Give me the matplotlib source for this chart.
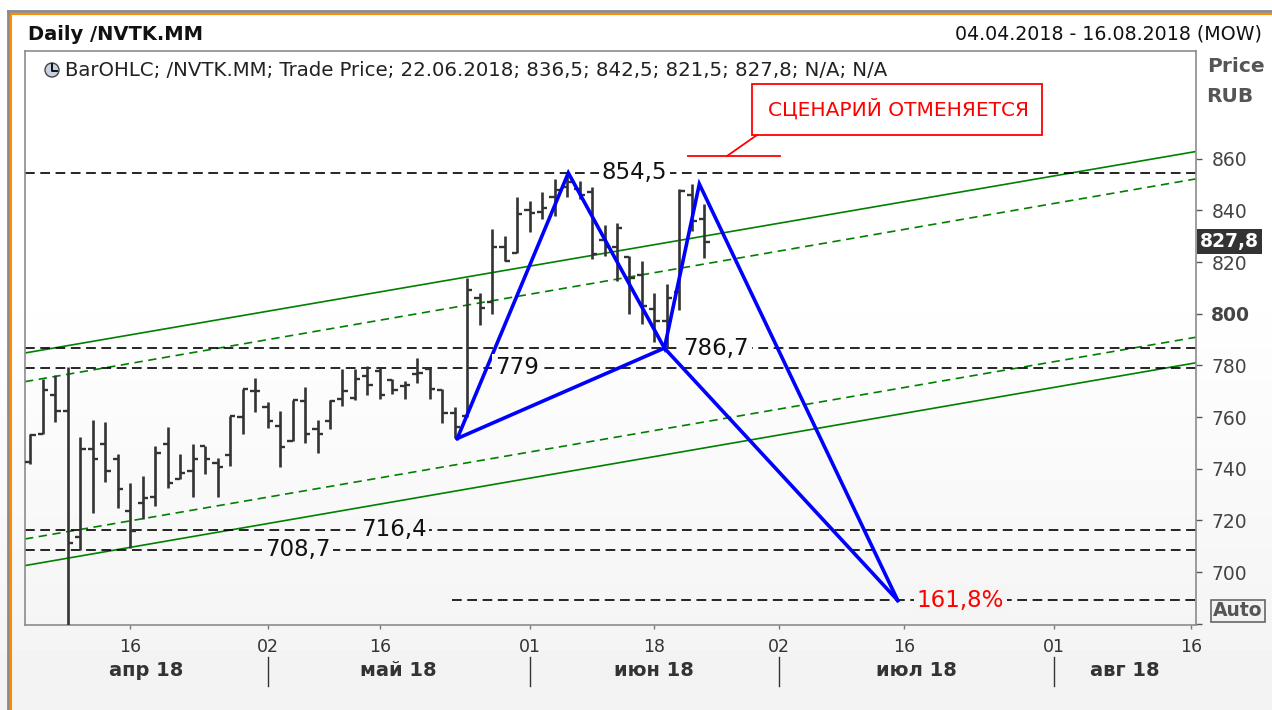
import matplotlib
matplotlib.use('Agg')
import matplotlib.pyplot as plt
import numpy as np
from matplotlib.transforms import blended_transform_factory
from matplotlib.patches import Rectangle, Circle

plt.rcParams['font.family'] = ['DejaVu Sans']
plt.rcParams['lines.scale_dashes'] = False

W, H = 1272, 710

# daily OHLC, trading days from 04.04.2018 to 22.06.2018
opens = [742.5, 753.6, 768.6, 762.2, 713.7, 747.8, 749.4, 743.6, 723.7, 726.9,
         729.2, 749.4, 736.2, 739.2, 748.7, 742.2, 745.5, 760.0, 770.1, 763.9,
         756.4, 750.7, 766.2, 755.5, 758.5, 767.1, 767.5, 775.7, 778.0, 774.2,
         772.0, 776.5, 778.7, 770.5, 761.5, 760.5, 806.0, 804.5, 825.7, 823.4,
         840.0, 839.3, 845.0, 849.0, 848.3, 847.0, 828.5, 826.0, 822.0, 815.0,
         802.0, 797.0, 808.3, 846.0, 836.5]
highs = [753.5, 774.8, 776.4, 779.4, 752.3, 758.7, 758.1, 745.6, 734.6, 737.2,
         748.8, 756.0, 745.6, 749.4, 748.7, 744.0, 760.3, 771.0, 775.1, 765.9,
         762.3, 766.5, 771.7, 758.7, 766.5, 778.7, 778.7, 779.6, 779.0, 774.9,
         774.0, 783.0, 779.0, 771.0, 764.0, 814.0, 808.0, 832.8, 830.2, 845.0,
         843.8, 847.0, 852.1, 854.5, 851.5, 849.0, 834.5, 835.0, 822.5, 820.6,
         808.0, 811.5, 848.3, 850.2, 842.5]
lows = [742.0, 753.6, 758.1, 650.0, 708.5, 722.7, 735.0, 724.9, 709.2, 720.5,
        725.5, 732.6, 736.2, 728.9, 738.1, 729.1, 740.9, 753.3, 762.0, 755.9,
        740.5, 750.7, 749.8, 745.9, 755.2, 764.2, 766.7, 768.4, 767.0, 769.1,
        767.0, 773.0, 767.0, 757.7, 751.7, 760.0, 795.5, 800.0, 820.6, 823.4,
        831.5, 836.7, 838.0, 845.0, 844.4, 821.3, 822.5, 812.5, 800.0, 796.0,
        789.0, 786.7, 801.3, 832.0, 821.5]
closes = [753.0, 770.3, 762.2, 711.4, 747.8, 743.6, 739.2, 732.1, 716.0, 728.5,
          746.1, 734.4, 738.5, 743.6, 743.9, 740.7, 760.3, 771.0, 770.1, 758.5,
          748.4, 766.5, 753.6, 753.6, 766.1, 770.1, 774.7, 772.3, 768.5, 770.3,
          772.5, 777.0, 771.0, 761.6, 756.0, 809.0, 802.3, 825.7, 820.6, 838.6,
          839.0, 841.0, 848.0, 851.0, 846.0, 823.0, 826.0, 833.0, 814.0, 803.0,
          797.0, 806.0, 847.6, 836.0, 827.8]

# horizontal levels and their labels (label x in trading-day index)
levels = [854.5, 786.7, 779.0, 716.4, 708.7]
level_labels = ['854,5', '786,7', '779', '716,4', '708,7']
level_label_x = [48.4, 52.3, 37.2, 29.1, 21.4]
level_label_ha = ['center', 'left', 'left', 'center', 'center']
ext_level = 689.0
ext_start = 33.8
ext_label = '161,8%'
ext_label_x = 71.0

# harmonic pattern points X, A, B, C, D
pat_x = [34.2, 43.1, 50.8, 53.6, 69.5]
pat_y = [751.7, 854.5, 786.7, 850.2, 689.0]

# price channel (values at left / right edge)
chan_x = [-0.44, 93.4]
chan_upper = [784.8, 862.8]
chan_upper_mid = [773.7, 852.2]
chan_lower_mid = [712.8, 790.9]
chan_lower = [702.5, 781.0]

xtick_pos = [8, 19, 28, 40, 50, 60, 70, 82, 93]
xtick_lab = ['16', '02', '16', '01', '18', '02', '16', '01', '16']
month_sep = [19, 40, 60, 82]
month_pos = [9.3, 29.5, 50, 71, 87.7]
month_lab = ['апр 18', 'май 18', 'июн 18', 'июл 18', 'авг 18']
yticks = [680, 700, 720, 740, 760, 780, 800, 820, 840, 860]
last_price = 827.8

YMIN, YMAX = 679.5, 901.7
AX_TOP, AX_BOT = 51, 625


def fx(x):
    return x / W


def fy(y):
    return 1 - y / H


def bg_gray(ypix):
    t = np.clip((ypix - 280) / (H - 280), 0, 1)
    return 1 - 0.05 * t


def price_to_pix(p):
    return AX_BOT - (p - YMIN) / (YMAX - YMIN) * (AX_BOT - AX_TOP)


fig = plt.figure(figsize=(W / 100, H / 100), dpi=100)

# background gradient
bg = fig.add_axes([0, 0, 1, 1], zorder=-10)
grad = bg_gray(np.arange(H)).reshape(-1, 1)
bg.imshow(grad, cmap='gray', vmin=0, vmax=1, aspect='auto', extent=[0, 1, 0, 1])
bg.axis('off')

ax = fig.add_axes([fx(25), fy(AX_BOT), fx(1196 - 25), (AX_BOT - AX_TOP) / H])
ax.set_facecolor('none')
ax.set_xlim(-0.44, 93.4)
ax.set_ylim(YMIN, YMAX)

idx = np.arange(len(opens))
bar_c = '#333333'
ax.vlines(idx, lows, highs, color=bar_c, lw=1.9, zorder=3)
ax.hlines(opens, idx - 0.42, idx, color=bar_c, lw=1.7, zorder=3)
ax.hlines(closes, idx, idx + 0.42, color=bar_c, lw=1.7, zorder=3)

# channel
ax.plot(chan_x, chan_upper, color='#008000', lw=1.2, zorder=2)
ax.plot(chan_x, chan_lower, color='#008000', lw=1.2, zorder=2)
ax.plot(chan_x, chan_upper_mid, color='#008000', lw=1.2, ls=(0, (6, 4)), zorder=2)
ax.plot(chan_x, chan_lower_mid, color='#008000', lw=1.2, ls=(0, (6, 4)), zorder=2)

# levels
for lv, lab, lx, ha in zip(levels, level_labels, level_label_x, level_label_ha):
    ax.axhline(lv, color='black', lw=1.2, ls=(0, (7, 4)), zorder=2)
    g = bg_gray(price_to_pix(lv))
    ax.text(lx, lv, lab, fontsize=16.5, ha=ha, va='center', color='#111111', zorder=5,
            bbox=dict(boxstyle='square,pad=0.12', fc=(g, g, g), ec='none'))
ax.plot([ext_start, 93.4], [ext_level, ext_level], color='black', lw=1.2,
        ls=(0, (7, 4)), zorder=2)
g = bg_gray(price_to_pix(ext_level))
ax.text(ext_label_x, ext_level, ext_label, fontsize=16.5, ha='left', va='center',
        color='#ff0000', zorder=5,
        bbox=dict(boxstyle='square,pad=0.12', fc=(g, g, g), ec='none'))

# pattern
blue = '#0000ff'
ax.plot(pat_x, pat_y, color=blue, lw=2.6, zorder=4, solid_joinstyle='miter')
ax.plot([pat_x[0], pat_x[2], pat_x[4]], [pat_y[0], pat_y[2], pat_y[4]],
        color=blue, lw=2.6, zorder=4)

# axes styling
for s in ax.spines.values():
    s.set_color('#8c8c8c')
    s.set_linewidth(1.2)
ax.yaxis.tick_right()
ax.set_yticks(yticks)
ax.set_yticklabels(['' if v == 680 else str(v) for v in yticks])
ax.tick_params(axis='y', length=4, width=1, color='#555555', pad=7,
               labelsize=13.5, labelcolor='#444444')
for lbl, v in zip(ax.get_yticklabels(), yticks):
    if v == 800:
        lbl.set_fontweight('bold')
ax.set_xticks(xtick_pos)
ax.set_xticklabels(xtick_lab)
ax.tick_params(axis='x', length=3, width=1, color='#777777', pad=6,
               labelsize=12.5, labelcolor='#333333')

# month labels
tr = blended_transform_factory(ax.transData, fig.transFigure)
for mp, ml in zip(month_pos, month_lab):
    fig.text(mp, fy(671), ml, transform=tr, ha='center', va='center',
             fontsize=14, fontweight='bold', color='#333333')
for ms in month_sep:
    ax.plot([ms, ms], [fy(657), fy(686)], transform=tr, color='#333333',
            lw=1, clip_on=False)

# current price tag
trp = blended_transform_factory(ax.transAxes, ax.transData)
ax.text(1.003, last_price, '827,8', transform=trp, ha='left', va='center',
        color='white', fontsize=13.5, fontweight='bold', zorder=6,
        bbox=dict(boxstyle='square,pad=0.16', fc='#333333', ec='none'))

# header texts
fig.text(fx(28), fy(34), 'Daily /NVTK.MM', fontsize=14, fontweight='bold',
         ha='left', va='center', color='#111111')
fig.text(fx(1262), fy(34), '04.04.2018 - 16.08.2018 (MOW)', fontsize=13.7,
         ha='right', va='center', color='#111111')
fig.text(fx(65), fy(70), 'BarOHLC; /NVTK.MM; Trade Price; 22.06.2018; 836,5; 842,5; '
         '821,5; 827,8; N/A; N/A', fontsize=14.2, ha='left', va='center',
         color='#222222')
fig.text(fx(1236), fy(67), 'Price', fontsize=14.5, fontweight='bold', ha='center',
         va='center', color='#555555')
fig.text(fx(1230), fy(97), 'RUB', fontsize=14.5, fontweight='bold', ha='center',
         va='center', color='#555555')
fig.text(fx(1238), fy(611), 'Auto', fontsize=13.5, fontweight='bold', ha='center',
         va='center', color='#555555',
         bbox=dict(boxstyle='square,pad=0.1', fc='#f2f2f2', ec='#666666', lw=1.2))

# overlay in pixel coordinates for frame and callout
ov = fig.add_axes([0, 0, 1, 1], zorder=10)
ov.set_xlim(0, W)
ov.set_ylim(H, 0)
ov.axis('off')
ov.set_facecolor('none')
ov.plot([8, W], [11, 11], color='#8a8a8a', lw=2)
ov.plot([10, W], [14, 14], color='#ff8c00', lw=1.5)
ov.plot([8, 8], [11, H], color='#8a8a8a', lw=2)
ov.plot([11, 11], [14, H], color='#ff8c00', lw=1.5)

# clock icon
ov.add_patch(Circle((52, 70), 7, fc='#c9d2e0', ec='#444444', lw=1))
ov.plot([52, 52, 57], [64, 71, 71], color='black', lw=1.3)

# callout
ov.add_patch(Rectangle((752, 84), 290, 51, fill=False, ec='#ff0000', lw=1.3))
ov.text(899, 109, 'СЦЕНАРИЙ ОТМЕНЯЕТСЯ', fontsize=14.5, color='#ff0000',
        ha='center', va='center')
ov.plot([688, 780], [156, 156], color='#ff0000', lw=1.3)
ov.plot([727, 757], [156, 135], color='#ff0000', lw=1.3)

fig.savefig('out.png', dpi=100)
